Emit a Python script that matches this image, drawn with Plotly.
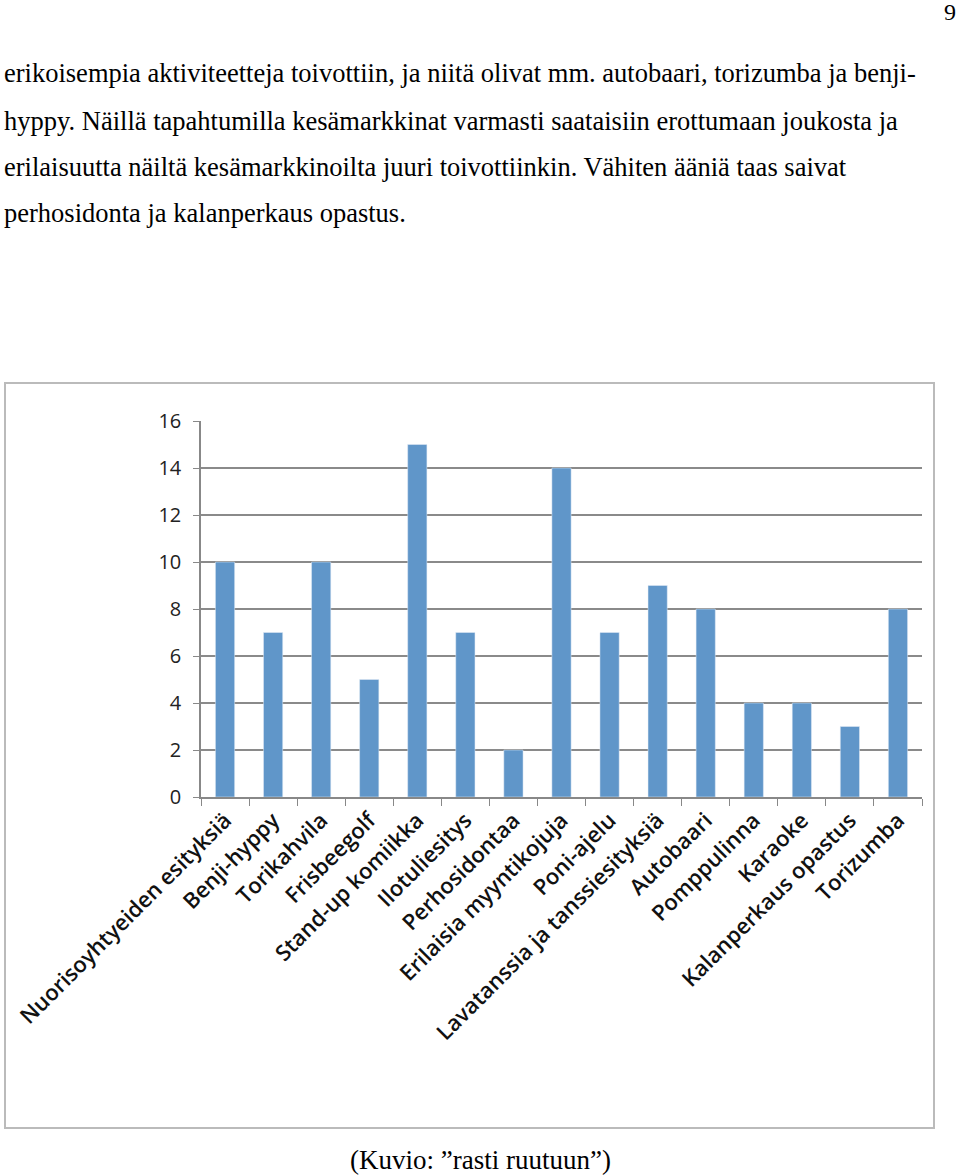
import plotly.graph_objects as go

categories = ["Nuorisoyhtyeiden esityksiä", "Benji-hyppy", "Torikahvila", "Frisbeegolf",
              "Stand-up komiikka", "Ilotuliesitys", "Perhosidontaa", "Erilaisia myyntikojuja",
              "Poni-ajelu", "Lavatanssia ja tanssiesityksiä", "Autobaari", "Pomppulinna",
              "Karaoke", "Kalanperkaus opastus", "Torizumba"]
values = [10, 7, 10, 5, 15, 7, 2, 14, 7, 9, 8, 4, 4, 3, 8]
y_ticks = [0, 2, 4, 6, 8, 10, 12, 14, 16]

paragraph_lines = [
    "erikoisempia aktiviteetteja toivottiin, ja niitä olivat mm. autobaari, torizumba ja benji-",
    "hyppy. Näillä tapahtumilla kesämarkkinat varmasti saataisiin erottumaan joukosta ja",
    "erilaisuutta näiltä kesämarkkinoilta juuri toivottiinkin. Vähiten ääniä taas saivat",
    "perhosidonta ja kalanperkaus opastus.",
]
caption = "(Kuvio: ”rasti ruutuun”)"
page_number = "9"

W, H = 960, 1176
L, R, T, B = 201, 922, 421, 797

def px(x):
    return (x - L) / (R - L)

def py(y):
    return (B - y) / (B - T)

fig = go.Figure(go.Bar(x=categories, y=values, marker_color="#6096C9", width=0.4))

fig.update_layout(
    width=W, height=H,
    margin=dict(l=L, r=W - R, t=T, b=H - B),
    paper_bgcolor="white", plot_bgcolor="white",
    showlegend=False,
    font=dict(family="Open Sans", color="#222"),
)
fig.update_xaxes(
    tickangle=-45, tickfont=dict(size=22, family="Open Sans", color="#111", weight=600),
    showline=True, linecolor="#888", linewidth=1.5,
    ticks="outside", tickson="boundaries", ticklen=7, tickcolor="#888",
    showgrid=False,
)
fig.update_yaxes(
    range=[0, 16], tickvals=y_ticks, tickfont=dict(size=20, family="Open Sans", color="#222"),
    showline=True, linecolor="#888", linewidth=1.5,
    ticks="outside", ticklen=6, tickcolor="#888", ticklabelstandoff=8,
    showgrid=True, gridcolor="#8A8A8A", gridwidth=1.5, zeroline=False,
)

# chart border
fig.add_shape(type="rect", xref="paper", yref="paper",
              x0=px(5), x1=px(934), y0=py(1128), y1=py(383),
              line=dict(color="#BBBBBB", width=2), fillcolor="rgba(0,0,0,0)", layer="below")

line_y = [73, 121, 167, 213]
for txt, yy in zip(paragraph_lines, line_y):
    fig.add_annotation(text=txt, xref="paper", yref="paper", x=px(2), y=py(yy),
                       xanchor="left", yanchor="middle", showarrow=False,
                       font=dict(family="Liberation Serif", size=26.5, color="black"))

fig.add_annotation(text=page_number, xref="paper", yref="paper", x=px(958), y=py(12),
                   xanchor="right", yanchor="middle", showarrow=False,
                   font=dict(family="Liberation Serif", size=24, color="black"))
fig.add_annotation(text=caption, xref="paper", yref="paper", x=px(480), y=py(1160),
                   xanchor="center", yanchor="middle", showarrow=False,
                   font=dict(family="Liberation Serif", size=27, color="black"))

fig.write_html("out.html")
